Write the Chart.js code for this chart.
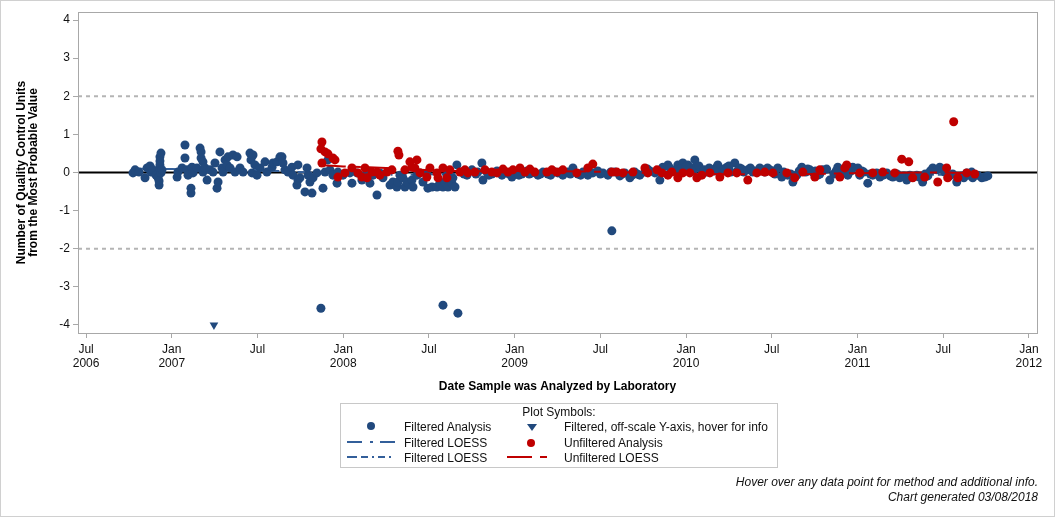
<!DOCTYPE html>
<html>
<head>
<meta charset="utf-8">
<script src="https://cdn.jsdelivr.net/npm/chart.js@4.4.1/dist/chart.umd.min.js"></script>
<style>
  body { margin: 0; background: #fff; font-family: "Liberation Sans", Arial, sans-serif; }
  #wrap { position: relative; width: 1056px; height: 518px; }
  #frame { position: absolute; left: 0; top: 0; width: 1053px; height: 515px; border: 1px solid #d0d0d0; }
  #legend { position: absolute; left: 340px; top: 403px; width: 436px; height: 63px; border: 1px solid #c8c8c8; font-size: 12px; color: #111; }
  #legend .t { position: absolute; white-space: nowrap; line-height: 14px; }
  #legend svg { position: absolute; }
  .foot { position: absolute; right: 18px; font-size: 12px; font-style: italic; color: #111; white-space: nowrap; }
</style>
</head>
<body>
<div id="wrap">
  <canvas id="qcChart" width="1056" height="518"></canvas>
  <div id="frame"></div>
  <div id="legend">
    <div class="t" style="left:0;width:436px;text-align:center;top:1px;">Plot Symbols:</div>
    <svg style="left:25px;top:17px" width="10" height="10"><circle cx="5" cy="5" r="4" fill="#21497d"/></svg>
    <div class="t" style="left:63px;top:16px;">Filtered Analysis</div>
    <svg style="left:185px;top:18px" width="12" height="10"><polygon points="1,2 11,2 6,9" fill="#21497d"/></svg>
    <div class="t" style="left:223px;top:16px;">Filtered, off-scale Y-axis, hover for info</div>
    <svg style="left:6px;top:33px" width="50" height="10"><line x1="0" y1="5" x2="50" y2="5" stroke="#335f9a" stroke-width="2" stroke-dasharray="15,8,3,7,15"/></svg>
    <div class="t" style="left:63px;top:32px;">Filtered LOESS</div>
    <svg style="left:185px;top:34px" width="10" height="10"><circle cx="5" cy="5" r="4" fill="#bf0000"/></svg>
    <div class="t" style="left:223px;top:32px;">Unfiltered Analysis</div>
    <svg style="left:6px;top:48px" width="50" height="10"><line x1="0" y1="5" x2="50" y2="5" stroke="#335f9a" stroke-width="2" stroke-dasharray="10,4,7,4,2,4,7,4,2"/></svg>
    <div class="t" style="left:63px;top:47px;">Filtered LOESS</div>
    <svg style="left:166px;top:48px" width="42" height="10"><line x1="0" y1="5" x2="42" y2="5" stroke="#bf0000" stroke-width="2" stroke-dasharray="25,8,7"/></svg>
    <div class="t" style="left:223px;top:47px;">Unfiltered LOESS</div>
  </div>
  <div class="foot" style="top:475px;">Hover over any data point for method and additional info.</div>
  <div class="foot" style="top:490px;">Chart generated 03/08/2018</div>
</div>
<script>
// dates are decimal years, values are QC units from the MPV
var filteredDates = [
  2006.774, 2006.786, 2006.809, 2006.844, 2006.856, 2006.873, 2006.879, 2006.891, 2006.908, 2006.920,
  2006.926, 2006.926, 2006.931, 2006.937, 2006.931, 2006.931, 2006.931, 2006.937, 2006.943,
  2007.031, 2007.036, 2007.060, 2007.077, 2007.077, 2007.089, 2007.095, 2007.112, 2007.112, 2007.118,
  2007.124, 2007.147, 2007.165, 2007.171, 2007.171, 2007.182, 2007.182, 2007.194, 2007.206, 2007.223,
  2007.241, 2007.252, 2007.264, 2007.270, 2007.281, 2007.293, 2007.299, 2007.311, 2007.322, 2007.328,
  2007.340, 2007.357, 2007.369, 2007.381, 2007.398, 2007.416, 2007.456, 2007.462, 2007.468, 2007.474,
  2007.485, 2007.497, 2007.515, 2007.544, 2007.555, 2007.585, 2007.590, 2007.614, 2007.631, 2007.643,
  2007.649, 2007.660, 2007.678, 2007.701, 2007.707, 2007.730, 2007.736, 2007.736, 2007.748, 2007.777,
  2007.818, 2007.789, 2007.795, 2007.806, 2007.824, 2007.847, 2007.882, 2007.894, 2007.911, 2007.923,
  2007.940, 2007.964, 2007.969, 2007.999, 2008.039, 2008.051, 2008.080, 2008.109, 2008.127, 2008.144,
  2008.156, 2008.174, 2008.197, 2008.214, 2008.232, 2008.273, 2008.290, 2008.313, 2008.319, 2008.331,
  2008.348, 2008.360, 2008.372, 2008.401, 2008.407, 2008.430, 2008.448, 2008.465, 2008.488, 2008.494,
  2008.518, 2008.547, 2008.564, 2008.582, 2008.593, 2008.605, 2008.611, 2008.634, 2008.640, 2008.652,
  2008.663, 2007.870, 2008.582, 2008.669, 2009.567,
  2008.692, 2008.722, 2008.751, 2008.774, 2008.809, 2008.815, 2008.838, 2008.867, 2008.897, 2008.926,
  2008.955, 2008.984, 2009.013, 2009.042, 2009.072, 2009.101, 2009.136, 2009.165, 2009.194, 2009.223,
  2009.252, 2009.281, 2009.311, 2009.340, 2009.369, 2009.398, 2009.427, 2009.456, 2009.485, 2009.515,
  2009.544, 2009.585, 2009.614, 2009.643, 2009.672, 2009.701, 2009.730,
  2008.705, 2008.785, 2008.850, 2008.910, 2008.970, 2009.025, 2009.085, 2009.150, 2009.210, 2009.265,
  2009.325, 2009.385, 2009.440, 2009.500, 2009.560, 2009.625, 2009.685, 2009.715,
  2009.760, 2009.789, 2009.818, 2009.847, 2009.864, 2009.894, 2009.923, 2009.952, 2009.981, 2010.010,
  2010.034, 2010.051, 2010.063, 2010.092, 2010.121, 2010.150, 2010.179, 2010.185, 2010.209, 2010.238,
  2010.261, 2010.284, 2010.313, 2010.337, 2010.360, 2010.389, 2010.430, 2010.459, 2010.488, 2010.518,
  2010.535, 2010.558, 2010.593, 2010.623, 2010.646, 2010.675, 2010.698, 2010.722, 2010.739, 2010.768,
  2010.797, 2010.838, 2010.862, 2010.885, 2010.914, 2010.943, 2010.972, 2011.002, 2011.013, 2011.037,
  2011.060, 2011.089, 2011.112, 2011.130, 2011.171, 2011.206, 2011.246, 2011.287, 2011.322, 2011.346,
  2011.380, 2011.410, 2011.439, 2011.462, 2011.480, 2011.509, 2011.538, 2011.579, 2011.608, 2011.637,
  2011.666, 2011.672, 2011.701, 2011.725, 2011.742, 2011.760,
  2009.775, 2009.835, 2009.905, 2009.965, 2010.000, 2010.040, 2010.075, 2010.105, 2010.135, 2010.165,
  2010.220, 2010.250, 2010.300, 2010.325, 2010.375, 2010.400, 2010.445, 2010.475, 2010.505, 2010.570,
  2010.610, 2010.660, 2010.710, 2010.755, 2010.780, 2010.820, 2010.875, 2010.925, 2010.960, 2011.025,
  2011.075, 2011.150, 2011.190, 2011.230, 2011.270, 2011.305, 2011.360, 2011.395, 2011.425, 2011.495,
  2011.555, 2011.620, 2011.650
];
var filteredValues = [
  -0.01, 0.07, 0.01, -0.14, 0.12, 0.17, 0.01, 0.07, -0.07, -0.14,
  -0.33, -0.22, 0.41, 0.51, 0.30, 0.20, 0.09, -0.01, 0.07,
  -0.12, 0.01, 0.12, 0.72, 0.38, 0.07, -0.07, -0.41, -0.54, 0.14,
  -0.01, 0.12, 0.64, 0.54, 0.38, 0.28, 0.01, 0.12, -0.20, 0.07,
  0.01, 0.25, -0.41, -0.25, 0.54, 0.12, 0.01, 0.33, 0.20, 0.41,
  0.12, 0.46, 0.01, 0.41, 0.12, 0.01, 0.51, 0.33, -0.01, 0.46,
  0.20, -0.07, 0.12, 0.28, 0.01, 0.14, 0.25, 0.28, 0.41, 0.41,
  0.25, 0.07, 0.01, 0.14, -0.07, -0.33, -0.20, 0.20, -0.14, -0.51,
  -0.54, 0.12, -0.07, -0.25, -0.14, -0.01, -0.41, 0.01, 0.33, 0.07,
  -0.07, -0.28, 0.01, -0.07, -0.01, -0.28, -0.01, -0.20, -0.07, 0.01,
  -0.28, -0.07, -0.59, -0.01, -0.14, -0.33, -0.25, -0.38, -0.25, -0.07,
  -0.14, -0.38, -0.25, -0.20, -0.38, -0.07, -0.01, -0.25, -0.01, -0.41,
  -0.38, -0.38, -0.28, -0.38, -0.25, -0.07, -0.38, -0.28, -0.14, -0.38,
  0.20, -3.56, -3.48, -3.69, -1.53,
  0.01, -0.07, 0.07, -0.04, 0.25, -0.20, 0.01, -0.04, 0.04, -0.07,
  -0.01, -0.12, 0.01, -0.04, 0.04, -0.01, -0.07, 0.01, -0.04, 0.04,
  -0.01, -0.07, 0.01, 0.12, -0.04, 0.01, -0.07, -0.01, 0.04, -0.01,
  -0.07, 0.01, -0.09, -0.01, -0.14, 0.01, -0.07,
  -0.04, 0.01, -0.07, 0.01, -0.04, -0.07, -0.04, -0.04, -0.07, 0.01,
  -0.04, -0.07, 0.01, -0.04, 0.01, -0.04, -0.07, -0.04,
  0.01, 0.04, -0.01, -0.20, 0.14, 0.20, 0.04, 0.20, 0.25, 0.20,
  0.12, 0.33, 0.14, 0.01, 0.01, 0.07, 0.14, 0.20, 0.04, 0.14,
  0.01, 0.25, 0.12, 0.01, 0.07, 0.01, 0.12, 0.01, 0.07, -0.04,
  0.12, -0.12, -0.07, -0.25, -0.07, 0.14, 0.01, 0.07, 0.01, -0.07,
  0.07, -0.20, -0.04, 0.14, 0.01, -0.07, 0.14, 0.12, -0.07, 0.01,
  -0.28, -0.07, -0.01, -0.12, -0.01, -0.12, -0.14, -0.20, -0.12, -0.07,
  -0.25, -0.09, 0.12, 0.07, 0.14, 0.01, -0.09, -0.25, -0.09, -0.01,
  0.01, -0.14, -0.07, -0.14, -0.12, -0.09,
  0.09, 0.04, 0.12, 0.09, 0.14, 0.04, 0.17, 0.07, 0.12, 0.04,
  0.09, 0.17, 0.04, 0.09, 0.12, 0.04, 0.07, 0.12, 0.04, 0.01,
  -0.04, 0.04, 0.09, 0.04, -0.04, 0.09, 0.04, 0.09, 0.04, 0.04,
  -0.04, -0.07, -0.09, -0.04, -0.09, -0.07, -0.12, -0.04, 0.04, 0.09,
  -0.04, -0.14, -0.07
];

// off-scale filtered result, drawn at the axis floor
var offscaleDates = [2007.246];
var offscaleValues = [-4];

var unfilteredDates = [
  2007.876, 2007.870, 2007.894, 2007.911, 2007.940, 2007.952, 2007.876, 2007.969, 2008.010, 2008.051,
  2008.086, 2008.109, 2008.127, 2008.139, 2008.168, 2008.197, 2008.214, 2008.255, 2008.284, 2008.319,
  2008.325, 2008.360, 2008.389, 2008.401, 2008.418, 2008.430, 2008.448, 2008.488, 2008.506, 2008.547,
  2008.553, 2008.582, 2008.605, 2008.622, 2008.681, 2008.710, 2008.727, 2008.768, 2008.827, 2008.867,
  2008.897, 2008.932, 2008.961, 2008.990, 2009.031, 2009.060, 2009.089, 2009.118, 2009.188, 2009.217,
  2009.246, 2009.281, 2009.363, 2009.427, 2009.456, 2009.567, 2009.596, 2009.631, 2009.690, 2009.760,
  2009.777, 2009.830, 2009.859, 2009.894, 2009.917, 2009.952, 2009.981, 2010.022, 2010.063, 2010.092,
  2010.139, 2010.197, 2010.244, 2010.296, 2010.360, 2010.413, 2010.459, 2010.506, 2010.588, 2010.634,
  2010.681, 2010.751, 2010.780, 2010.897, 2010.926, 2010.937, 2011.013, 2011.089, 2011.147, 2011.217,
  2011.258, 2011.299, 2011.322, 2011.392, 2011.468, 2011.520, 2011.526, 2011.561, 2011.585, 2011.637,
  2011.684
];
var unfilteredValues = [
  0.80, 0.62, 0.54, 0.49, 0.38, 0.33, 0.25, -0.12, -0.01, 0.12,
  -0.01, -0.12, 0.12, -0.14, 0.01, 0.01, -0.07, 0.01, 0.07, 0.56,
  0.46, 0.07, 0.28, 0.14, 0.12, 0.33, -0.01, -0.12, 0.12, -0.01,
  -0.14, 0.12, -0.14, 0.07, 0.01, 0.07, -0.01, 0.01, 0.07, 0.01,
  -0.01, 0.09, 0.01, 0.07, 0.12, 0.01, 0.09, 0.01, 0.01, 0.07,
  0.01, 0.07, -0.01, 0.12, 0.22, 0.01, 0.01, -0.01, 0.01, 0.12,
  -0.01, 0.07, -0.01, -0.07, 0.01, -0.14, -0.01, -0.01, -0.14, -0.07,
  -0.01, -0.12, -0.01, -0.01, -0.20, -0.01, 0.01, -0.01, -0.01, -0.14,
  0.01, -0.12, 0.07, -0.12, 0.12, 0.20, -0.01, -0.01, 0.01, -0.01,
  0.35, 0.28, -0.14, -0.12, -0.25, 0.12, -0.14, 1.33, -0.14, -0.01,
  -0.04
];

// LOESS fits
var loessADates = [2006.77, 2007.0, 2007.25, 2007.5, 2007.75, 2007.95];
var loessAValues = [0.10, 0.09, 0.08, 0.06, 0.01, -0.03];
var loessBDates = [2007.95, 2008.25, 2008.5, 2008.75, 2009.0, 2009.5, 2010.0, 2010.5, 2011.0, 2011.5, 2011.76];
var loessBValues = [-0.03, -0.06, -0.05, -0.02, -0.01, 0.0, 0.03, 0.02, -0.03, -0.06, -0.08];
var loessRedDates = [2007.87, 2008.0, 2008.25, 2008.5, 2008.75, 2009.0, 2009.5, 2010.0, 2010.5, 2011.0, 2011.5, 2011.68];
var loessRedValues = [0.19, 0.16, 0.12, 0.06, 0.03, 0.04, 0.02, -0.03, -0.05, -0.02, 0.0, -0.02];

// axes
var xMin = 2006.453, xMax = 2012.047;
var xTicks = [2006.5, 2007, 2007.5, 2008, 2008.5, 2009, 2009.5, 2010, 2010.5, 2011, 2011.5, 2012];
var xTickLabels = [["Jul", "2006"], ["Jan", "2007"], "Jul", ["Jan", "2008"], "Jul", ["Jan", "2009"],
                   "Jul", ["Jan", "2010"], "Jul", ["Jan", "2011"], "Jul", ["Jan", "2012"]];
var yTicks = [-4, -3, -2, -1, 0, 1, 2, 3, 4];
var limitLines = [2, -2];

var BLUE = "#21497d", RED = "#bf0000", LOESS_BLUE = "#335f9a";

function pts(xs, ys){
    var out = [];
    for (let i = 0; i < xs.length; i++){
        out.push({x: xs[i], y: ys[i]});
    }
    return out;
}

var plotFrame = {
    id: "plotFrame",
    afterDraw: function(chart){
        var a = chart.chartArea, ctx = chart.ctx;
        ctx.save();
        ctx.strokeStyle = "#a8a8a8";
        ctx.lineWidth = 1;
        ctx.strokeRect(Math.round(a.left) + 0.5, Math.round(a.top) + 0.5, Math.round(a.right - a.left), Math.round(a.bottom - a.top));
        ctx.restore();
    }
};

var datasets = [
    {type: "scatter", label: "Unfiltered Analysis", data: pts(unfilteredDates, unfilteredValues),
     backgroundColor: RED, borderWidth: 0, pointRadius: 4.5, order: 1},
    {type: "line", label: "Unfiltered LOESS", data: pts(loessRedDates, loessRedValues),
     borderColor: RED, borderWidth: 2, borderDash: [25, 8, 7, 8], pointRadius: 0, tension: 0.3, order: 2},
    {type: "scatter", label: "Filtered Analysis", data: pts(filteredDates, filteredValues),
     backgroundColor: BLUE, borderWidth: 0, pointRadius: 4.5, order: 3},
    {type: "scatter", label: "Filtered, off-scale Y-axis, hover for info", data: pts(offscaleDates, offscaleValues),
     backgroundColor: BLUE, borderWidth: 0, pointStyle: "triangle", rotation: 180, pointRadius: 5, order: 3},
    {type: "line", label: "Filtered LOESS", data: pts(loessADates, loessAValues),
     borderColor: LOESS_BLUE, borderWidth: 2, borderDash: [15, 8, 3, 7], pointRadius: 0, tension: 0.3, order: 4},
    {type: "line", label: "Filtered LOESS", data: pts(loessBDates, loessBValues),
     borderColor: LOESS_BLUE, borderWidth: 2, borderDash: [10, 4, 7, 4, 2, 4], pointRadius: 0, tension: 0.3, order: 4},
    {type: "line", label: "zero", data: [{x: xMin, y: 0}, {x: xMax, y: 0}],
     borderColor: "#000", borderWidth: 2, pointRadius: 0, order: 10}
];
for (let i = 0; i < limitLines.length; i++){
    datasets.push({type: "line", label: "limit", data: [{x: xMin, y: limitLines[i]}, {x: xMax, y: limitLines[i]}],
        borderColor: "#b4b4b4", borderWidth: 2, borderDash: [4, 4], pointRadius: 0, order: 11});
}

var font12 = {family: "'Liberation Sans', Arial, sans-serif", size: 12};

new Chart("qcChart", {
    type: "scatter",
    data: {datasets: datasets},
    plugins: [plotFrame],
    options: {
        responsive: false,
        animation: false,
        events: [],
        layout: {padding: {left: 0, top: 12, right: 19, bottom: 123}},
        plugins: {legend: {display: false}, tooltip: {enabled: false}},
        scales: {
            x: {
                type: "linear", min: xMin, max: xMax,
                afterBuildTicks: function(s){ s.ticks = xTicks.map(v => ({value: v})); },
                afterFit: function(s){ s.height = 62; },
                grid: {drawOnChartArea: false, tickLength: 5, color: "#a8a8a8"},
                border: {color: "#a8a8a8"},
                ticks: {
                    autoSkip: false, maxRotation: 0, padding: 4, color: "#111", font: font12,
                    callback: function(v, i){ return xTickLabels[i]; }
                },
                title: {display: true, text: "Date Sample was Analyzed by Laboratory", color: "#000",
                        font: {family: font12.family, size: 12, weight: "bold"}, padding: {top: 0, bottom: 1}}
            },
            y: {
                min: -4.21, max: 4.21,
                afterBuildTicks: function(s){ s.ticks = yTicks.map(v => ({value: v})); },
                afterFit: function(s){ s.width = 78; },
                grid: {drawOnChartArea: false, tickLength: 5, color: "#a8a8a8"},
                border: {color: "#a8a8a8"},
                ticks: {padding: 3, color: "#111", font: font12},
                title: {display: true, text: ["Number of Quality Control Units", "from the Most Probable Value"], color: "#000",
                        font: {family: font12.family, size: 12, weight: "bold", lineHeight: 1.0}, padding: {top: 16, bottom: 0}}
            }
        }
    }
});
</script>
</body>
</html>
